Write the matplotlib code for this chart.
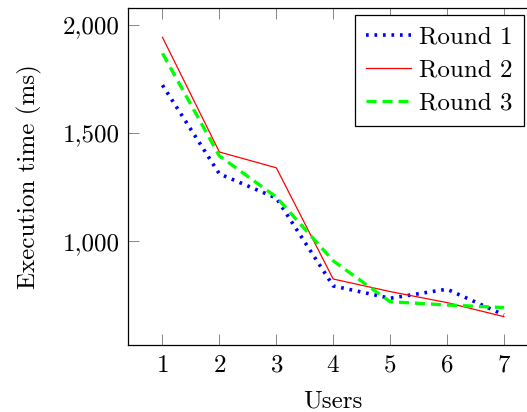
import numpy as np
import matplotlib
matplotlib.use("Agg")
import matplotlib.pyplot as plt
from matplotlib.ticker import FuncFormatter

# execution time per number of users, three rounds
users = [1, 2, 3, 4, 5, 6, 7]
round1 = [1722, 1312, 1200, 794, 737, 779, 660]
round2 = [1943, 1413, 1340, 826, 768, 717, 652]
round3 = [1869, 1395, 1205, 910, 721, 706, 694]

plt.rcParams["font.family"] = "serif"
plt.rcParams["font.serif"] = ["cmr10", "DejaVu Serif"]
plt.rcParams["mathtext.fontset"] = "cm"
plt.rcParams["axes.formatter.use_mathtext"] = True

FS = 18

fig = plt.figure(figsize=(5.27, 4.12), dpi=100)
# the right border of the plot sits just past the image edge, as in the reference
ax = fig.add_axes([0.2435, 0.1626, 1.021 - 0.2435, 0.8172])

ax.plot(users, round1, color="#0000ff", linestyle=(0, (0.75, 1.6)), linewidth=2.6,
        dash_capstyle="butt", label="Round 1")
ax.plot(users, round2, color="#ff0000", linestyle="-", linewidth=0.9, label="Round 2")
ax.plot(users, round3, color="#00ff00", linestyle=(0, (3, 1.8)), linewidth=2.4, label="Round 3")

ax.set_xlim(0.4, 7.6)
ax.set_ylim(521, 2077)
ax.set_xticks(users)
ax.set_yticks([1000, 1500, 2000])
ax.yaxis.set_major_formatter(FuncFormatter(lambda v, p: f"{int(v):,}"))

ax.tick_params(direction="in", length=8, width=0.6, color="0.45",
               top=True, right=True, labelsize=FS, pad=6)
ax.tick_params(axis="x", pad=7)
for s in ax.spines.values():
    s.set_linewidth(0.9)

ax.set_xlabel("Users", fontsize=FS, labelpad=10)
ax.set_ylabel("Execution time (ms)", fontsize=FS, labelpad=15)

leg = ax.legend(loc="upper left", bbox_to_anchor=(355 / 527, 1 - 15 / 412),
                bbox_transform=fig.transFigure, fontsize=FS, frameon=True,
                fancybox=False, framealpha=1, edgecolor="black",
                handlelength=1.8, borderpad=0.45, labelspacing=0.41,
                handletextpad=0.32, borderaxespad=0)
leg.get_frame().set_linewidth(0.9)

fig.savefig("out.png", dpi=100)
